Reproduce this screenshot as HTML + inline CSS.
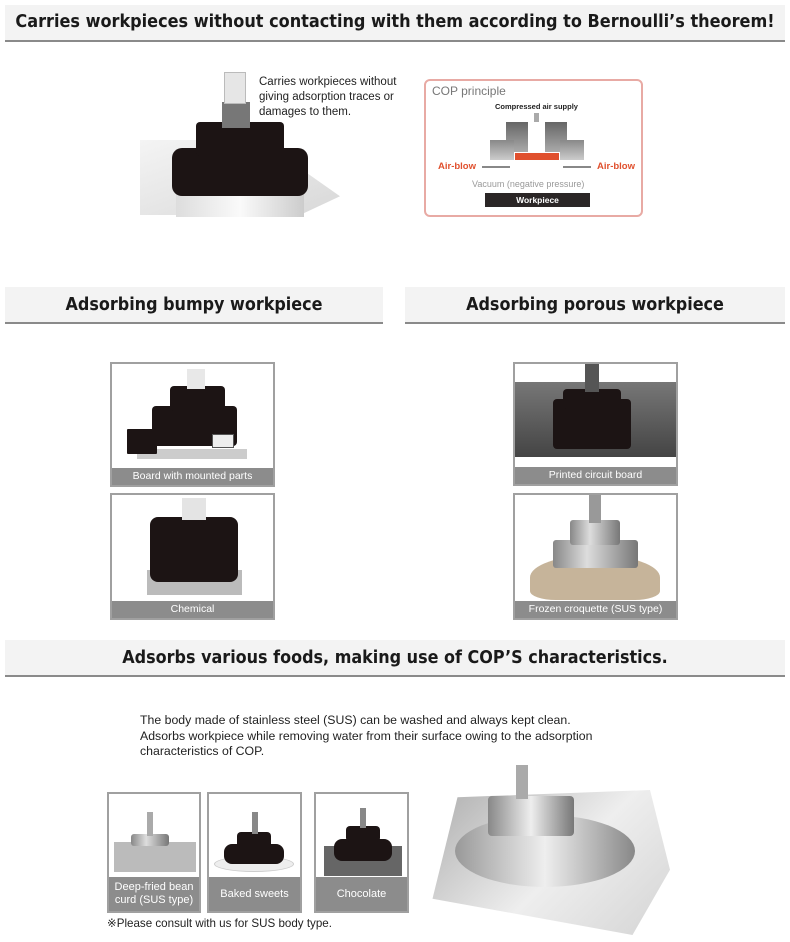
<!DOCTYPE html>
<html><head><meta charset="utf-8"><style>
*{margin:0;padding:0;box-sizing:border-box}
body{width:790px;height:942px;background:#fff;position:relative;overflow:hidden;font-family:"Liberation Sans",sans-serif;color:#222}
.a{position:absolute}
.hdr{position:absolute;background:#f3f3f3;border-bottom:2px solid #8a8a8a;font-weight:bold;font-size:17.8px;text-align:center;color:#1a1a1a;white-space:nowrap;overflow:hidden;font-family:"DejaVu Sans Condensed","DejaVu Sans","Liberation Sans",sans-serif}
.pn{position:absolute;border:2px solid #a0a0a0;background:#fff;overflow:hidden}
.cap{position:absolute;left:0;right:0;bottom:0;height:17px;background:#8c8c8c;color:#fff;font-size:10.5px;text-align:center;line-height:17px}
.blk{position:absolute;background:#1c1414;border-radius:4px}
.steel{position:absolute;background:linear-gradient(90deg,#888,#ddd 40%,#777);border-radius:3px}
</style></head><body>

<div class="hdr" style="left:5px;top:5px;width:780px;height:37px;line-height:34px;font-size:17.9px">Carries workpieces without contacting with them according to Bernoulli’s theorem!</div>

<!-- top photo -->
<div class="a" style="left:140px;top:140px;width:200px;height:75px;background:linear-gradient(160deg,#f4f4f4,#d8d8d8);clip-path:polygon(0 0,60% 0,100% 75%,80% 100%,0 100%)"></div>
<div class="a" style="left:176px;top:185px;width:128px;height:32px;background:linear-gradient(90deg,#ddd,#fafafa,#ccc)"></div>
<div class="blk" style="left:172px;top:148px;width:136px;height:48px;border-radius:10px"></div>
<div class="blk" style="left:196px;top:122px;width:88px;height:34px"></div>
<div class="a" style="left:222px;top:102px;width:28px;height:26px;background:#777"></div>
<div class="a" style="left:224px;top:72px;width:22px;height:32px;background:#e6e6e6;border:1px solid #bbb"></div>
<div class="a" style="left:259px;top:75px;font-size:11.5px;line-height:15px;color:#222">Carries workpieces without<br>giving adsorption traces or<br>damages to them.</div>

<!-- COP box -->
<div class="a" style="left:424px;top:79px;width:219px;height:138px;border:2px solid #e8aaa4;border-radius:6px"></div>
<div class="a" style="left:432px;top:84px;font-size:12px;color:#777">COP principle</div>
<div class="a" style="left:495px;top:102px;font-size:7.5px;font-weight:bold;color:#222">Compressed air supply</div>
<div class="a" style="left:534px;top:113px;width:5px;height:9px;background:#aaa"></div>
<div class="a" style="left:506px;top:122px;width:22px;height:30px;background:linear-gradient(#666,#aaa)"></div>
<div class="a" style="left:490px;top:140px;width:24px;height:20px;background:linear-gradient(#888,#ccc)"></div>
<div class="a" style="left:545px;top:122px;width:22px;height:30px;background:linear-gradient(#666,#aaa)"></div>
<div class="a" style="left:560px;top:140px;width:24px;height:20px;background:linear-gradient(#888,#ccc)"></div>
<div class="a" style="left:515px;top:153px;width:44px;height:7px;background:#e0502e"></div>
<div class="a" style="left:482px;top:166px;width:28px;height:2px;background:#888"></div>
<div class="a" style="left:563px;top:166px;width:28px;height:2px;background:#888"></div>
<div class="a" style="left:438px;top:161px;font-size:9.5px;color:#e0502e;font-weight:bold">Air-blow</div>
<div class="a" style="left:597px;top:161px;font-size:9.5px;color:#e0502e;font-weight:bold">Air-blow</div>
<div class="a" style="left:472px;top:179px;font-size:9px;color:#999">Vacuum (negative pressure)</div>
<div class="a" style="left:485px;top:193px;width:105px;height:14px;background:#2b2626;color:#fff;font-size:8.5px;font-weight:bold;text-align:center;line-height:14px">Workpiece</div>

<div class="hdr" style="left:5px;top:287px;width:378px;height:37px;line-height:36px">Adsorbing bumpy workpiece</div>
<div class="hdr" style="left:405px;top:287px;width:380px;height:37px;line-height:36px">Adsorbing porous workpiece</div>

<!-- panels left -->
<div class="pn" style="left:110px;top:362px;width:165px;height:125px">
 <div class="a" style="left:25px;top:85px;width:110px;height:10px;background:#ccc"></div>
 <div class="blk" style="left:15px;top:65px;width:30px;height:25px;border-radius:1px"></div>
 <div class="blk" style="left:40px;top:42px;width:85px;height:40px"></div>
 <div class="blk" style="left:58px;top:22px;width:55px;height:25px"></div>
 <div class="a" style="left:75px;top:5px;width:18px;height:20px;background:#e8e8e8"></div>
 <div class="a" style="left:100px;top:70px;width:22px;height:14px;background:#eee;border:1px solid #555"></div>
 <div class="cap">Board with mounted parts</div>
</div>
<div class="pn" style="left:110px;top:493px;width:165px;height:127px">
 <div class="a" style="left:35px;top:75px;width:95px;height:25px;background:#bbb"></div>
 <div class="blk" style="left:38px;top:22px;width:88px;height:65px;border-radius:8px"></div>
 <div class="a" style="left:70px;top:3px;width:24px;height:22px;background:#e4e4e4"></div>
 <div class="cap">Chemical</div>
</div>
<!-- panels right -->
<div class="pn" style="left:513px;top:362px;width:165px;height:124px">
 <div class="a" style="left:0;top:18px;width:161px;height:75px;background:linear-gradient(#777,#444)"></div>
 <div class="blk" style="left:38px;top:35px;width:78px;height:50px"></div>
 <div class="blk" style="left:48px;top:25px;width:58px;height:20px"></div>
 <div class="a" style="left:70px;top:0;width:14px;height:28px;background:#555"></div>
 <div class="cap">Printed circuit board</div>
</div>
<div class="pn" style="left:513px;top:493px;width:165px;height:127px">
 <div class="a" style="left:15px;top:60px;width:130px;height:45px;background:#c6b49a;border-radius:50% 50% 20% 20%"></div>
 <div class="steel" style="left:38px;top:45px;width:85px;height:28px"></div>
 <div class="steel" style="left:55px;top:25px;width:50px;height:25px"></div>
 <div class="a" style="left:74px;top:0;width:12px;height:28px;background:#999"></div>
 <div class="cap">Frozen croquette (SUS type)</div>
</div>

<div class="hdr" style="left:5px;top:640px;width:780px;height:37px;line-height:36px">Adsorbs various foods, making use of COP’S characteristics.</div>

<div class="a" style="left:140px;top:713px;font-size:12.3px;line-height:15.5px;color:#222;white-space:nowrap">The body made of stainless steel (SUS) can be washed and always kept clean.<br>Adsorbs workpiece while removing water from their surface owing to the adsorption<br>characteristics of COP.</div>

<div class="pn" style="left:107px;top:792px;width:94px;height:121px">
 <div class="a" style="left:5px;top:48px;width:82px;height:30px;background:#bbb"></div>
 <div class="steel" style="left:22px;top:40px;width:38px;height:12px"></div>
 <div class="a" style="left:38px;top:18px;width:6px;height:24px;background:#aaa"></div>
 <div class="cap" style="height:34px;line-height:13px;padding-top:4px;font-size:11px">Deep-fried bean<br>curd (SUS type)</div>
</div>
<div class="pn" style="left:207px;top:792px;width:95px;height:121px">
 <div class="a" style="left:5px;top:62px;width:80px;height:16px;background:#eee;border:1px solid #ccc;border-radius:50%"></div>
 <div class="blk" style="left:15px;top:50px;width:60px;height:20px;border-radius:8px"></div>
 <div class="blk" style="left:28px;top:38px;width:34px;height:16px"></div>
 <div class="a" style="left:43px;top:18px;width:6px;height:22px;background:#888"></div>
 <div class="cap" style="height:34px;line-height:34px;font-size:11px">Baked sweets</div>
</div>
<div class="pn" style="left:314px;top:792px;width:95px;height:121px">
 <div class="a" style="left:8px;top:52px;width:78px;height:30px;background:#666"></div>
 <div class="blk" style="left:18px;top:45px;width:58px;height:22px;border-radius:8px"></div>
 <div class="blk" style="left:30px;top:32px;width:34px;height:16px"></div>
 <div class="a" style="left:44px;top:14px;width:6px;height:20px;background:#888"></div>
 <div class="cap" style="height:34px;line-height:34px;font-size:11px">Chocolate</div>
</div>
<div class="a" style="left:107px;top:916px;font-size:11.6px;color:#222;white-space:nowrap">※Please consult with us for SUS body type.</div>

<!-- big SUS photo -->
<div class="a" style="left:420px;top:790px;width:250px;height:145px;background:linear-gradient(135deg,#aaa,#eee 55%,#d4d4d4);clip-path:polygon(15% 5%,92% 0,100% 55%,85% 100%,5% 75%)"></div>
<div class="a" style="left:455px;top:815px;width:180px;height:72px;border-radius:50%;background:linear-gradient(90deg,#999,#eee,#888)"></div>
<div class="a" style="left:488px;top:796px;width:86px;height:40px;background:linear-gradient(90deg,#888,#eee,#777);border-radius:4px"></div>
<div class="a" style="left:516px;top:765px;width:12px;height:34px;background:#aaa"></div>
</body></html>
